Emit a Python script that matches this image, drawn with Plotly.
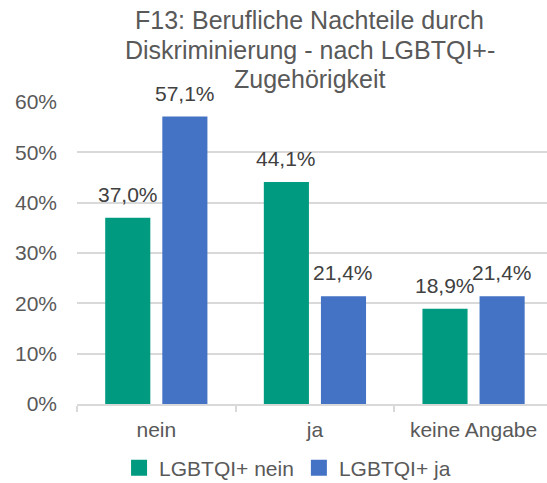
import plotly.graph_objects as go

categories = ["nein", "ja", "keine Angabe"]
series_names = ["LGBTQI+ nein", "LGBTQI+ ja"]
values_nein = [0.370, 0.441, 0.189]
values_ja = [0.571, 0.214, 0.214]
tick_vals = [0, 0.1, 0.2, 0.3, 0.4, 0.5, 0.6]
tick_text = ["0%", "10%", "20%", "30%", "40%", "50%", "60%"]
title_lines = ["F13: Berufliche Nachteile durch", "Diskriminierung - nach LGBTQI+-", "Zugehörigkeit"]

colors = ["#009A80", "#4472C4"]
txt = "#595959"
font = "Liberation Sans, Arial, sans-serif"

M_L, M_R, M_T, M_B = 77, 0, 102, 79
H = 483
plot_h = H - M_T - M_B

def ypaper(ypix):
    return (H - M_B - ypix) / plot_h

fig = go.Figure()
for name, vals, col in zip(series_names, [values_nein, values_ja], colors):
    fig.add_trace(go.Bar(
        x=categories, y=vals, name=name, marker_color=col, marker_line_width=0,
        showlegend=False, hoverinfo="skip",
    ))
for name, col in zip(series_names, colors):
    fig.add_trace(go.Scatter(
        x=[None], y=[None], mode="markers", name=name,
        marker=dict(symbol="square", size=20, color=col),
    ))

# data labels above the bars
for vals, shift in zip([values_nein, values_ja], [-28.5, 28.5]):
    for c, v in zip(categories, vals):
        fig.add_annotation(x=c, y=v, xref="x", yref="y", xshift=shift, yshift=10,
                           text=f"{v*100:.1f}%".replace(".", ","), showarrow=False,
                           yanchor="bottom", xanchor="center",
                           font=dict(size=21, color="#404040", family=font))

# title, one annotation per line
for i, line in enumerate(title_lines):
    fig.add_annotation(text=line, x=0.4957, xref="paper", xanchor="center",
                       y=ypaper(20.3 + 29.5 * i), yref="paper", yanchor="middle",
                       showarrow=False, font=dict(size=25, color=txt, family=font))

fig.update_layout(
    width=547, height=H,
    paper_bgcolor="white", plot_bgcolor="white",
    margin=dict(l=M_L, r=M_R, t=M_T, b=M_B, autoexpand=False),
    barmode="group", bargap=0.28, bargroupgap=0.21,
    font=dict(family=font, color=txt, size=21),
    legend=dict(orientation="h", x=0.448, xanchor="center", y=0.031, yref="container",
                yanchor="middle", font=dict(size=21, color=txt), itemwidth=30,
                tracegroupgap=0),
    showlegend=True,
)
fig.update_xaxes(range=[-0.5, 2.463], showline=True, linecolor="#D9D9D9", linewidth=1.5,
                 ticks="outside", tickson="boundaries", tickcolor="#D9D9D9", ticklen=6,
                 tickwidth=1.5, tickfont=dict(size=21, color=txt), showgrid=False,
                 automargin=False, ticklabelstandoff=6)
fig.update_yaxes(range=[0, 0.6], tickvals=tick_vals, ticktext=tick_text,
                 showgrid=True, gridcolor="#D9D9D9", gridwidth=1.5, zeroline=False,
                 ticks="", tickfont=dict(size=21, color=txt), ticklabelstandoff=19,
                 automargin=False)

fig.write_html("out.html", config={"displayModeBar": False},
               post_script="document.body.style.margin='0';")
